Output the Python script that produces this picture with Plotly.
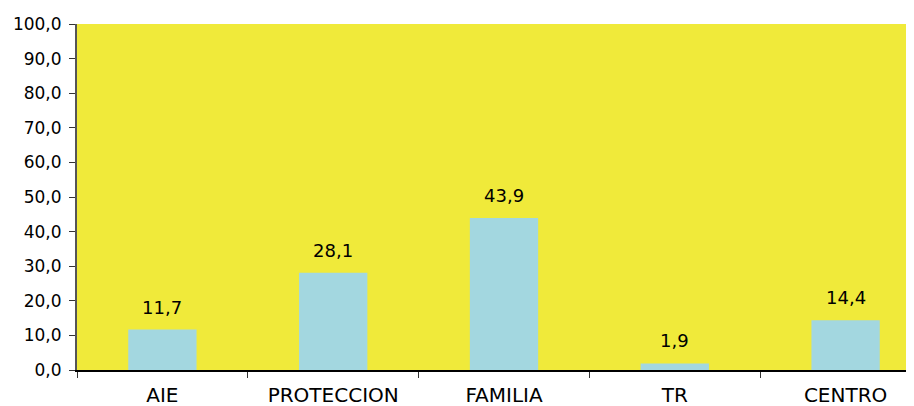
import plotly.graph_objects as go

categories = ["AIE", "PROTECCION", "FAMILIA", "TR", "CENTRO"]
values = [11.7, 28.1, 43.9, 1.9, 14.4]
y_ticks = [0, 10, 20, 30, 40, 50, 60, 70, 80, 90, 100]

fig = go.Figure(
    go.Bar(
        x=categories,
        y=values,
        marker=dict(color="#A3D7E0", line=dict(width=0)),
        width=0.4,
        hoverinfo="x+y",
    )
)

# value labels above the bars, Excel-style with comma decimals
for cat, val in zip(categories, values):
    fig.add_annotation(
        x=cat,
        y=val,
        text=f"{val:.1f}".replace(".", ","),
        showarrow=False,
        yanchor="bottom",
        yshift=10,
        font=dict(size=18, color="black"),
    )

# page body has an 8px default margin; the plot area runs past the
# right edge of the window like in the original (cropped) image
fig.update_layout(
    width=923,
    height=398,
    margin=dict(l=69, r=0, t=16, b=36),
    paper_bgcolor="white",
    plot_bgcolor="#F0EA3A",
    font=dict(family="DejaVu Sans", size=17, color="black"),
    separators=",.",
    showlegend=False,
)

fig.update_yaxes(
    range=[0, 100],
    tickvals=y_ticks,
    tickformat=".1f",
    showgrid=False,
    zeroline=False,
    showline=True,
    linecolor="#555555",
    linewidth=2,
    ticks="outside",
    ticklen=6,
    tickcolor="#333333",
    tickfont=dict(size=17),
    ticklabelstandoff=4,
    automargin=False,
)

fig.update_xaxes(
    showgrid=False,
    showline=True,
    linecolor="black",
    linewidth=2,
    ticks="outside",
    tickson="boundaries",
    ticklen=6,
    tickcolor="#333333",
    tickfont=dict(size=20),
    ticklabelstandoff=6,
    automargin=False,
)

fig.write_html("out.html")
